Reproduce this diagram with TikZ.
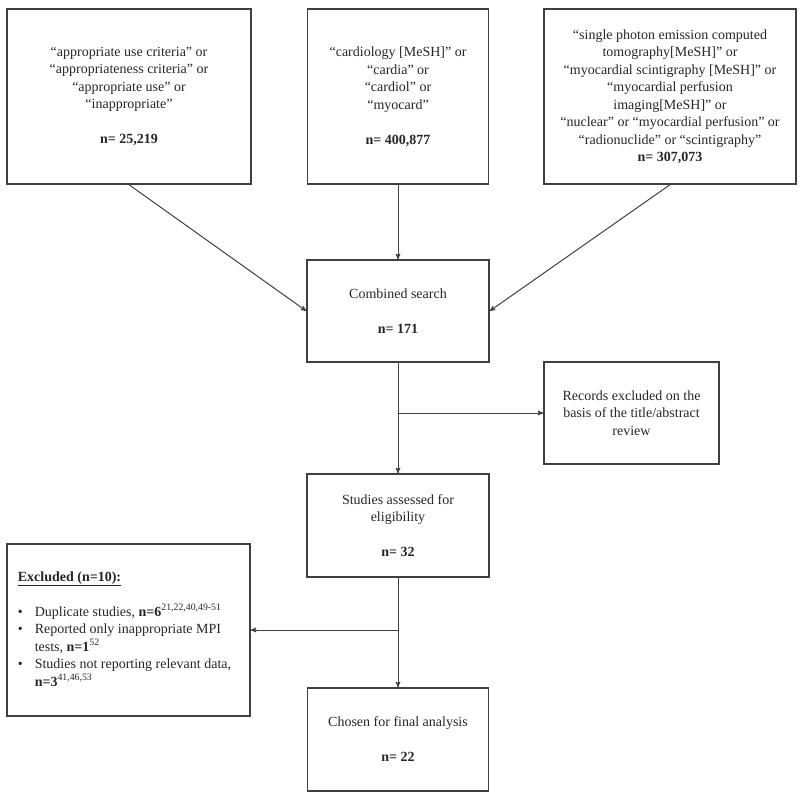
\documentclass[tikz,border=0pt]{standalone}
\usepackage{fontspec}
\setmainfont{Liberation Serif}
\usetikzlibrary{arrows}

\begin{document}
\begin{tikzpicture}[x=1pt, y=-1pt, >=stealth',
  box/.style={draw=black!75, line width=1.4pt, inner sep=0pt, align=center, text=black!85, font=\fontsize{14}{17.5}\selectfont},
  link/.style={draw=black!75, line width=1pt}]
  \useasboundingbox (0,0) rectangle (800,800);
  \node[box, minimum width=244, minimum height=175] (crit) at (129,96.5)
    {“appropriate use criteria” or\\“appropriateness criteria” or\\“appropriate use” or\\“inappropriate”\\[17.5pt]\textbf{n= 25,219}};
  \node[box, minimum width=181, minimum height=175] (mesh) at (398,96.5)
    {“cardiology [MeSH]” or\\“cardia” or\\“cardiol” or\\“myocard”\\[17.5pt]\textbf{n= 400,877}};
  \node[box, minimum width=252, minimum height=175] (spect) at (670,96.5)
    {“single photon emission computed\\tomography[MeSH]” or\\“myocardial scintigraphy [MeSH]” or\\“myocardial perfusion\\imaging[MeSH]” or\\“nuclear” or “myocardial perfusion” or\\“radionuclide” or “scintigraphy”\\\textbf{n= 307,073}};
  \node[box, minimum width=182, minimum height=102] (comb) at (398,311)
    {Combined search\\[17.5pt]\textbf{n= 171}};
  \node[box, minimum width=175, minimum height=102] (rec) at (631.5,413)
    {Records excluded on the\\basis of the title/abstract\\review};
  \node[box, minimum width=182, minimum height=103] (stud) at (398,525.5)
    {Studies assessed for\\eligibility\\[17.5pt]\textbf{n= 32}};
  \node[box, minimum width=243, minimum height=172, align=left] (excl) at (128.5,630)
    {\begin{tabular}{@{}l@{\hspace{12pt}}l@{}}
     \multicolumn{2}{@{}l}{\underline{\textbf{Excluded (n=10):}}}\\[17.5pt]
     \textbullet & Duplicate studies, \textbf{n=6}\textsuperscript{21,22,40,49-51}\\
     \textbullet & Reported only inappropriate MPI\\
                 & tests, \textbf{n=1}\textsuperscript{52}\\
     \textbullet & Studies not reporting relevant data,\\
                 & \textbf{n=3}\textsuperscript{41,46,53}
     \end{tabular}\hspace*{8pt}};
  \node[box, minimum width=181, minimum height=103] (chos) at (398,739.5)
    {Chosen for final analysis\\[17.5pt]\textbf{n= 22}};
  \coordinate (j1) at (comb.south |- rec.west);
  \coordinate (j2) at (stud.south |- excl.east);
  \draw[->, link] (crit.south) -- (comb.west);
  \draw[->, link] (mesh.south) -- (comb.north);
  \draw[->, link] (spect.south) -- (comb.east);
  \draw[->, link] (comb.south) -- (stud.north);
  \draw[->, link] (j1) -- (rec.west);
  \draw[->, link] (stud.south) -- (chos.north);
  \draw[->, link] (j2) -- (excl.east);
\end{tikzpicture}
\end{document}
